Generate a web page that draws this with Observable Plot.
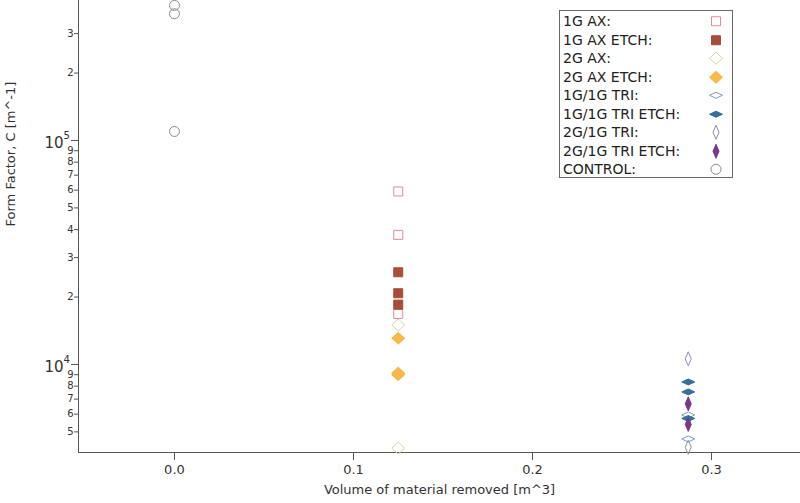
<!DOCTYPE html>
<html>
<head>
<meta charset="utf-8">
<script src="https://cdn.jsdelivr.net/npm/d3@7"></script>
<script src="https://cdn.jsdelivr.net/npm/@observablehq/plot@0.6"></script>
<style>
  html, body { margin: 0; padding: 0; background: #fff; }
  #wrap { position: relative; width: 800px; height: 503px; font-family: "DejaVu Sans", sans-serif; }
  #legend { position: absolute; left: 559px; top: 10px; width: 174px; height: 168px; border: 1px solid #666; background: #fff; box-sizing: border-box; padding-top: 1px; }
  .row { height: 18.5px; display: flex; align-items: center; font-size: 14px; color: #222; padding-left: 3px; position: relative; }
  .row svg { position: absolute; left: 146px; top: 0; }
</style>
</head>
<body>
<div id="wrap"><div id="legend"></div></div>
<script>
// ---------- data ----------
const seriesNames = ["1G AX:", "1G AX ETCH:", "2G AX:", "2G AX ETCH:", "1G/1G TRI:", "1G/1G TRI ETCH:", "2G/1G TRI:", "2G/1G TRI ETCH:", "CONTROL:"];
const volumeRemoved = [0.125, 0.125, 0.125, 0.125, 0.287, 0.287, 0.287, 0.287, 0.0];
const ff1GAX = [59200, 37900, 16800];
const ff1GAXEtch = [25800, 20800, 18500];
const ff2GAX = [15000, 4230];
const ff2GAXEtch = [13100, 9150, 9000];
const ff1G1GTri = [5950, 4650];
const ff1G1GTriEtch = [8350, 7540, 5740];
const ff2G1GTri = [10600, 4270];
const ff2G1GTriEtch = [6670, 5400];
const ffControl = [401000, 368000, 109700];
const formFactors = [ff1GAX, ff1GAXEtch, ff2GAX, ff2GAXEtch, ff1G1GTri, ff1G1GTriEtch, ff2G1GTri, ff2G1GTriEtch, ffControl];

const xTicks = [0.0, 0.1, 0.2, 0.3];
const xTickLabels = ["0.0", "0.1", "0.2", "0.3"];
const yMinorTicks = [5000, 6000, 7000, 8000, 9000, 20000, 30000, 40000, 50000, 60000, 70000, 80000, 90000, 200000, 300000];
const yMinorLabels = ["5", "6", "7", "8", "9", "2", "3", "4", "5", "6", "7", "8", "9", "2", "3"];
const yDecadeTicks = [10000, 100000];
const yDecadeBase = ["10", "10"];
const yDecadeExp = ["4", "5"];
const xLabel = "Volume of material removed [m^3]";
const yLabel = "Form Factor, C [m^-1]";

// ---------- styles ----------
function shape(kind, w, h) {
  return {
    draw(ctx) {
      const a = w / 2, b = h / 2;
      if (kind === "square") { ctx.moveTo(-a, -b); ctx.lineTo(a, -b); ctx.lineTo(a, b); ctx.lineTo(-a, b); ctx.closePath(); }
      else if (kind === "circle") { ctx.moveTo(a, 0); ctx.arc(0, 0, a, 0, 2 * Math.PI); ctx.closePath(); }
      else { ctx.moveTo(0, -b); ctx.lineTo(a, 0); ctx.lineTo(0, b); ctx.lineTo(-a, 0); ctx.closePath(); }
    }
  };
}
const styles = [
  {sym: shape("square", 9, 9), fill: "none", stroke: "#e58a96"},
  {sym: shape("square", 9, 9), fill: "#a64d3c", stroke: "#a64d3c"},
  {sym: shape("diamond", 13, 12), fill: "none", stroke: "#d9d3ad"},
  {sym: shape("diamond", 13, 12), fill: "#f9b84a", stroke: "#f9b84a"},
  {sym: shape("diamond", 13, 6), fill: "none", stroke: "#7e9cc0"},
  {sym: shape("diamond", 13, 6), fill: "#3a6f95", stroke: "#3a6f95"},
  {sym: shape("diamond", 6, 14), fill: "none", stroke: "#8a8db5"},
  {sym: shape("diamond", 6, 14), fill: "#773a88", stroke: "#773a88"},
  {sym: shape("circle", 10, 10), fill: "none", stroke: "#8c8c8c"}
];

const xDomain = [-0.0536, 0.3497];
const yDomain = [4045, 421700];
const tickLabelMap = new Map(yMinorTicks.map((t, i) => [t, yMinorLabels[i]]));
const xLabelMap = new Map(xTicks.map((t, i) => [t, xTickLabels[i]]));

const dotMarks = formFactors.map((vals, i) =>
  Plot.dot(vals, {x: () => volumeRemoved[i], y: d => d, symbol: styles[i].sym, fill: styles[i].fill, stroke: styles[i].stroke, strokeWidth: 1, r: 5})
);

const chart = Plot.plot({
  width: 800,
  height: 503,
  marginLeft: 78,
  marginRight: 0,
  marginTop: 0,
  marginBottom: 51,
  style: {fontFamily: "DejaVu Sans, sans-serif", fontSize: "13px", color: "#333", background: "transparent"},
  x: {domain: xDomain, label: null},
  y: {type: "log", domain: yDomain, label: null},
  marks: [
    Plot.ruleX([xDomain[0]], {stroke: "#555"}),
    Plot.ruleY([yDomain[0]], {stroke: "#555"}),
    Plot.axisX(xTicks, {tickSize: 8, tickPadding: 4, tickFormat: d => xLabelMap.get(d), fontSize: 13, label: null, stroke: "#555"}),
    Plot.axisY(yMinorTicks, {ticks: Infinity, tickSize: 4, tickPadding: 1, tickFormat: d => tickLabelMap.get(d), fontSize: 10, label: null, stroke: "#555"}),
    Plot.axisY(yDecadeTicks, {ticks: Infinity, tickSize: 7, tickFormat: () => "", label: null, stroke: "#555"}),
    Plot.text(yDecadeTicks, {y: d => d, frameAnchor: "left", text: (d, i) => yDecadeBase[i], textAnchor: "end", dx: -15, dy: 3, fontSize: 15}),
    Plot.text(yDecadeTicks, {y: d => d, frameAnchor: "left", text: (d, i) => yDecadeExp[i], textAnchor: "start", dx: -15, dy: -5, fontSize: 10}),
    Plot.text([xLabel], {frameAnchor: "bottom", text: d => d, dy: 41, fontSize: 13}),
    Plot.text([yLabel], {frameAnchor: "left", text: d => d, dx: -68, rotate: -90, fontSize: 13}),
    ...dotMarks
  ]
});
document.getElementById("wrap").prepend(chart);

// ---------- legend ----------
const legend = d3.select("#legend");
seriesNames.forEach((name, i) => {
  const row = legend.append("div").attr("class", "row");
  row.append("span").text(name);
  const p = d3.path();
  styles[i].sym.draw(p);
  row.append("svg").attr("width", 20).attr("height", 18.5)
    .append("path").attr("transform", "translate(10,9.25)").attr("d", p.toString())
    .attr("fill", styles[i].fill).attr("stroke", styles[i].stroke);
});
</script>
</body>
</html>
